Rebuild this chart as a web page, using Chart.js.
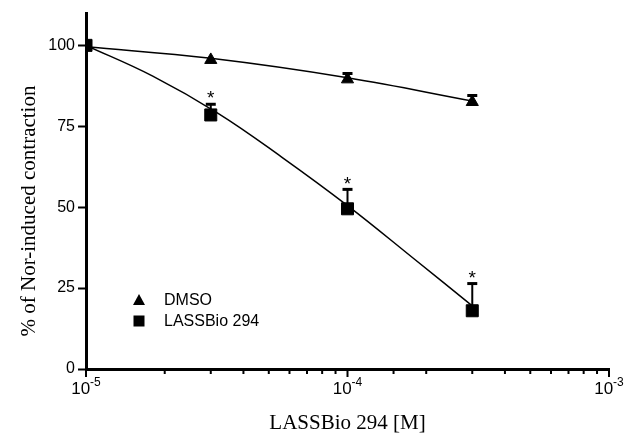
<!DOCTYPE html>
<html>
<head>
<meta charset="utf-8">
<script src="https://cdn.jsdelivr.net/npm/chart.js@4"></script>
<style>
    html, body { margin: 0; padding: 0; background: #fff; }
</style>
</head>
<body>
<canvas id="graficoContracao" width="628" height="437"></canvas>
<script>
const concentracoes = [1e-5, 3e-5, 1e-4, 3e-4];
const dmsoMedia = [100, 95.5, 89.5, 82.5];
const dmsoErro = [0, 0, 1.8, 2];
const lassMedia = [100, 78.5, 49.5, 18];
const lassErro = [0, 3.3, 6, 8.4];
const lassSignificativo = [false, true, true, true];

// curvas ajustadas
const dmsoCurvaX = [1e-5, 3e-5, 1e-4, 3e-4];
const dmsoCurvaY = [99.6, 96, 90, 82.8];
const lassCurvaX = [1e-5, 1.8e-5, 3.2e-5, 5.6e-5, 1e-4, 1.8e-4, 3e-4];
const lassCurvaY = [100, 90.5, 79, 65.5, 50.5, 34, 19.5];

const yTicks = [0, 25, 50, 75, 100];
const xRotulos = [1e-5, 1e-4, 1e-3];
const legendaRotulos = ["DMSO", "LASSBio 294"];

const SANS = "'Liberation Sans', Arial, sans-serif";
const SERIF = "'Liberation Serif', 'Times New Roman', serif";

function pontos(xs, ys) {
    return xs.map((x, i) => ({ x, y: ys[i] }));
}

function ehPotenciaDeDez(v) {
    const l = Math.log10(v);
    return Math.abs(l - Math.round(l)) < 1e-9;
}

const pluginDesenhos = {
    id: "desenhos",
    afterDatasetsDraw(chart) {
        const ctx = chart.ctx;
        const sx = chart.scales.x;
        const sy = chart.scales.y;
        const area = chart.chartArea;

        // barras de erro (só para cima)
        const series = [[dmsoMedia, dmsoErro], [lassMedia, lassErro]];
        ctx.save();
        ctx.strokeStyle = "#000";
        series.forEach(([media, erro]) => {
            concentracoes.forEach((c, i) => {
                if (!erro[i]) return;
                const px = sx.getPixelForValue(c);
                const y0 = sy.getPixelForValue(media[i]);
                const y1 = sy.getPixelForValue(media[i] + erro[i]);
                ctx.lineWidth = 2;
                ctx.beginPath();
                ctx.moveTo(px, y0);
                ctx.lineTo(px, y1);
                ctx.stroke();
                ctx.lineWidth = 3;
                ctx.beginPath();
                ctx.moveTo(px - 5, y1);
                ctx.lineTo(px + 5, y1);
                ctx.stroke();
            });
        });

        // asteriscos
        ctx.fillStyle = "#000";
        ctx.font = "19px " + SANS;
        ctx.textAlign = "center";
        ctx.textBaseline = "middle";
        concentracoes.forEach((c, i) => {
            if (!lassSignificativo[i]) return;
            const px = sx.getPixelForValue(c);
            const yTopo = sy.getPixelForValue(lassMedia[i] + lassErro[i]);
            ctx.fillText("*", px, yTopo - 5);
        });

        // ticks do eixo x (maiores e menores)
        ctx.lineWidth = 2;
        sx.ticks.forEach((t) => {
            const px = sx.getPixelForValue(t.value);
            ctx.beginPath();
            ctx.moveTo(px, area.bottom);
            ctx.lineTo(px, area.bottom + (ehPotenciaDeDez(t.value) ? 8 : 5));
            ctx.stroke();
        });

        // rótulos do eixo x com expoente
        ctx.textAlign = "left";
        ctx.textBaseline = "alphabetic";
        xRotulos.forEach((v) => {
            const px = sx.getPixelForValue(v);
            const exp = String(Math.round(Math.log10(v)));
            ctx.font = "17px " + SANS;
            const wBase = ctx.measureText("10").width;
            ctx.font = "12px " + SANS;
            const wExp = ctx.measureText(exp).width;
            const x0 = px - (wBase + wExp) / 2;
            ctx.font = "17px " + SANS;
            ctx.fillText("10", x0, 394);
            ctx.font = "12px " + SANS;
            ctx.fillText(exp, x0 + wBase, 386);
        });

        // legenda
        const lx = 139;
        const ly = [300, 321];
        ctx.beginPath();
        ctx.moveTo(lx, ly[0] - 6);
        ctx.lineTo(lx + 6, ly[0] + 5);
        ctx.lineTo(lx - 6, ly[0] + 5);
        ctx.closePath();
        ctx.fill();
        ctx.fillRect(lx - 5.5, ly[1] - 5.5, 11, 11);
        ctx.font = "16px " + SANS;
        ctx.textBaseline = "middle";
        legendaRotulos.forEach((r, i) => ctx.fillText(r, 164, ly[i] + 1));

        // título do eixo y
        ctx.translate(29, 211);
        ctx.rotate(-Math.PI / 2);
        ctx.textAlign = "center";
        ctx.font = "21px " + SERIF;
        ctx.fillText("% of Nor-induced contraction", 0, 0);
        ctx.restore();
    },
};

new Chart(document.getElementById("graficoContracao"), {
    type: "line",
    data: {
        datasets: [
            {
                label: "DMSO ajuste",
                data: pontos(dmsoCurvaX, dmsoCurvaY),
                borderColor: "#000",
                borderWidth: 1.5,
                pointRadius: 0,
                tension: 0.4,
                order: 3,
            },
            {
                label: "LASSBio 294 ajuste",
                data: pontos(lassCurvaX, lassCurvaY),
                borderColor: "#000",
                borderWidth: 1.5,
                pointRadius: 0,
                tension: 0.4,
                order: 3,
            },
            {
                label: legendaRotulos[0],
                data: pontos(concentracoes, dmsoMedia),
                showLine: false,
                pointStyle: "triangle",
                pointRadius: 7,
                backgroundColor: "#000",
                borderColor: "#000",
                order: 2,
            },
            {
                label: legendaRotulos[1],
                data: pontos(concentracoes, lassMedia),
                showLine: false,
                pointStyle: "rect",
                pointRadius: 8.5,
                backgroundColor: "#000",
                borderColor: "#000",
                order: 1,
            },
        ],
    },
    options: {
        responsive: false,
        animation: false,
        devicePixelRatio: 1,
        layout: { padding: { top: 13, right: 19, left: 0, bottom: 0 } },
        plugins: {
            legend: { display: false },
            tooltip: { enabled: false },
        },
        scales: {
            x: {
                type: "logarithmic",
                min: 1e-5,
                max: 1e-3,
                border: { display: true, width: 3, color: "#000" },
                grid: { drawOnChartArea: false, drawTicks: true, tickLength: 8, tickColor: "rgba(0,0,0,0)" },
                ticks: {
                    autoSkip: false,
                    maxRotation: 0,
                    callback: () => "",
                },
                title: {
                    display: true,
                    text: "LASSBio 294 [M]",
                    color: "#000",
                    font: { family: SERIF, size: 21 },
                    padding: { top: 0, bottom: 1 },
                },
                afterFit: (axis) => { axis.height = 68; },
            },
            y: {
                min: 0,
                max: 110,
                border: { display: true, width: 3, color: "#000" },
                grid: { drawOnChartArea: false, drawTicks: true, tickLength: 8, tickWidth: 2, tickColor: "#000" },
                afterBuildTicks: (axis) => { axis.ticks = yTicks.map((v) => ({ value: v })); },
                ticks: {
                    color: "#000",
                    padding: 3,
                    font: { family: SANS, size: 16 },
                },
                afterFit: (axis) => { axis.width = 86; },
            },
        },
    },
    plugins: [pluginDesenhos],
});
</script>
</body>
</html>
